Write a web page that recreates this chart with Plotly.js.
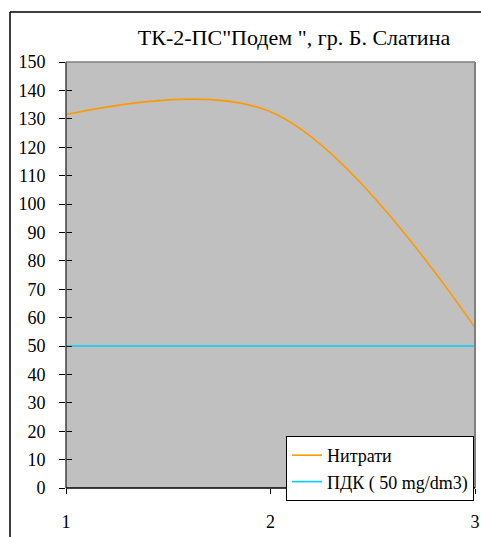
<!DOCTYPE html>
<html>
<head>
<meta charset="utf-8">
<script src="https://cdn.plot.ly/plotly-3.0.1.min.js"></script>
</head>
<body style="margin:0">
<div id="chart"></div>
<script>
const xValues = [1, 2, 3];
const nitrati = [131.5, 132.5, 56.5];
const pdk = [50, 50, 50];
const seriesNames = ["Нитрати", "ПДК ( 50 mg/dm3)"];
const titleText = 'ТК-2-ПС"Подем ", гр. Б. Слатина';
const yTicks = [0,10,20,30,40,50,60,70,80,90,100,110,120,130,140,150];

const traces = [
  {x: xValues, y: nitrati, name: seriesNames[0], type: "scatter", mode: "lines",
   line: {color: "#FF9900", width: 1.6, shape: "spline", smoothing: 1}},
  {x: xValues, y: pdk, name: seriesNames[1], type: "scatter", mode: "lines",
   line: {color: "#00CCFF", width: 1.6}},
  {x: xValues, y: pdk, yaxis: "y2", showlegend: false, hoverinfo: "skip", mode: "lines",
   line: {width: 0}, opacity: 0}
];

const L = 66, R = 475, T = 62, B = 488;
const pw = R - L, ph = B - T;
const px = v => (v - L) / pw;
const py = v => (B - v) / ph;

const layout = {
  width: 481, height: 537,
  margin: {l: L, r: 481 - R, t: T, b: 537 - B, pad: 0},
  paper_bgcolor: "#ffffff",
  plot_bgcolor: "#C0C0C0",
  title: {text: titleText, font: {family: "Liberation Serif", size: 22, color: "#000000"},
          x: px(294), xanchor: "center", xref: "paper", y: 1 - 37/537, yanchor: "middle"},
  xaxis: {range: [1, 3], tickvals: xValues, ticktext: ["1","2","3"], ticks: "outside", ticklen: 5,
          tickcolor: "#000000", showline: false, showgrid: false, zeroline: false,
          tickfont: {family: "Liberation Serif", size: 18, color: "#000000"}, ticklabelstandoff: 12},
  yaxis: {range: [0, 150], tickvals: yTicks, ticks: "outside", ticklen: 6, tickcolor: "#000000",
          showline: false, showgrid: false, zeroline: false,
          tickfont: {family: "Liberation Serif", size: 18, color: "#000000"}, ticklabelstandoff: 10},
  yaxis2: {range: [0, 150], overlaying: "y", side: "left", tickvals: yTicks, ticks: "inside",
           ticklen: 6, tickcolor: "#000000", showticklabels: false, showline: false, showgrid: false, zeroline: false},
  showlegend: true,
  legend: {x: px(474), y: py(436), xanchor: "right", yanchor: "top",
           bgcolor: "#ffffff", bordercolor: "#000000", borderwidth: 1,
           font: {family: "Liberation Serif", size: 18, color: "#000000"}, tracegroupgap: 0},
  shapes: [
    {type: "line", xref: "paper", yref: "paper", x0: 1, x1: 1, y0: 0, y1: 1, line: {color: "#808080", width: 2}},
    {type: "line", xref: "paper", yref: "paper", x0: 0, x1: 1, y0: 1, y1: 1, line: {color: "#808080", width: 1.5}},
    {type: "line", xref: "paper", yref: "paper", x0: 0, x1: 0, y0: 0, y1: 1, line: {color: "#404040", width: 1.5}},
    {type: "line", xref: "paper", yref: "paper", x0: 0, x1: 1, y0: 0, y1: 0, line: {color: "#000000", width: 1.5}},
    {type: "line", xref: "paper", yref: "paper", x0: px(10), x1: px(10), y0: py(540), y1: py(12), line: {color: "#000000", width: 1.5}},
    {type: "line", xref: "paper", yref: "paper", x0: px(10), x1: px(485), y0: py(12), y1: py(12), line: {color: "#000000", width: 1.5}}
  ]
};

Plotly.newPlot("chart", traces, layout, {displayModeBar: false}).then(function () {
  document.querySelectorAll("#chart svg text").forEach(function (t) {
    t.style.fontFamily = "'Liberation Serif', serif";
  });
});
</script>
</body>
</html>
